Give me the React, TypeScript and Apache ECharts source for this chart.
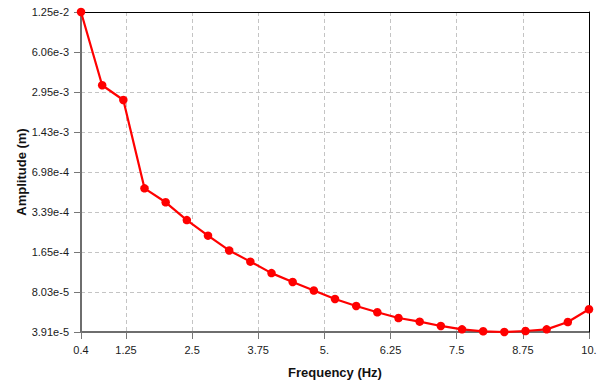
import React, { useEffect, useRef } from "react";
import * as echarts from "echarts";

const frequencies = [0.4, 0.8, 1.2, 1.6, 2.0, 2.4, 2.8, 3.2, 3.6, 4.0, 4.4, 4.8, 5.2, 5.6, 6.0, 6.4, 6.8, 7.2, 7.6, 8.0, 8.4, 8.8, 9.2, 9.6, 10.0];
const amplitudes = [
  1.25e-2, 3.34e-3, 2.56e-3, 5.21e-4, 4.05e-4, 2.94e-4, 2.22e-4, 1.70e-4, 1.39e-4, 1.13e-4,
  9.63e-5, 8.26e-5, 7.09e-5, 6.25e-5, 5.58e-5, 5.03e-5, 4.71e-5, 4.36e-5, 4.10e-5, 3.96e-5,
  3.91e-5, 3.98e-5, 4.10e-5, 4.68e-5, 5.89e-5,
];
const xTickValues = [0.4, 1.25, 2.5, 3.75, 5, 6.25, 7.5, 8.75, 10];
const xTickLabels = ["0.4", "1.25", "2.5", "3.75", "5.", "6.25", "7.5", "8.75", "10."];
const yTickValues = [3.91e-5, 8.03e-5, 1.65e-4, 3.39e-4, 6.98e-4, 1.43e-3, 2.95e-3, 6.06e-3, 1.25e-2];
const yTickLabels = ["3.91e-5", "8.03e-5", "1.65e-4", "3.39e-4", "6.98e-4", "1.43e-3", "2.95e-3", "6.06e-3", "1.25e-2"];

function nearestLabel(v: number, values: number[], labels: string[], log: boolean) {
  let best = 0;
  let bestD = Infinity;
  values.forEach((t, i) => {
    const d = log ? Math.abs(Math.log(t) - Math.log(v)) : Math.abs(t - v);
    if (d < bestD) { bestD = d; best = i; }
  });
  return labels[best];
}

export default function App() {
  const ref = useRef<HTMLDivElement>(null);
  useEffect(() => {
    document.body.style.margin = "0";
    const chart = echarts.init(ref.current!, null, { renderer: "svg" });
    const font = "'Liberation Sans', Arial, sans-serif";
    const gridLine = { show: true, lineStyle: { color: "#c4c4c4", type: [4, 3] as any, width: 1 } };
    const xMin = frequencies[0];
    const xMax = frequencies[frequencies.length - 1];
    const yMin = yTickValues[0];
    const yMax = yTickValues[yTickValues.length - 1];
    chart.setOption({
      animation: false,
      backgroundColor: "#ffffff",
      grid: {
        left: 81, right: 14, top: 12, bottom: 50,
        show: false,
        containLabel: false,
        outerBoundsMode: "none",
      },
      xAxis: [
        {
          type: "value",
          min: xMin,
          max: xMax,
          name: "Frequency (Hz)",
          nameLocation: "middle",
          nameGap: 34,
          nameMoveOverlap: false,
          nameTextStyle: { fontFamily: font, fontSize: 13, fontWeight: "bold", color: "#111" },
          axisLine: { show: true, lineStyle: { color: "#6e6e6e", width: 2 } },
          axisTick: { show: true, length: 7, customValues: xTickValues, lineStyle: { color: "#777", width: 1 } },
          axisLabel: {
            customValues: xTickValues,
            margin: 12,
            fontFamily: font,
            fontSize: 11,
            color: "#1a1a1a",
            showMinLabel: true,
            showMaxLabel: true,
            formatter: (v: number) => nearestLabel(v, xTickValues, xTickLabels, false),
          },
          splitLine: gridLine,
          z: 0,
        },
        {
          type: "value",
          position: "top",
          min: xMin,
          max: xMax,
          axisLine: { show: true, lineStyle: { color: "#000000", width: 1 } },
          axisTick: { show: false },
          axisLabel: { show: false },
          splitLine: { show: false },
          z: 3,
        },
      ],
      yAxis: [
        {
          type: "log",
          logBase: 10,
          min: yMin,
          max: yMax,
          name: "Amplitude (m)",
          nameLocation: "middle",
          nameGap: 53,
          nameMoveOverlap: false,
          nameTextStyle: { fontFamily: font, fontSize: 13, fontWeight: "bold", color: "#111" },
          axisLine: { show: true, lineStyle: { color: "#6e6e6e", width: 2 } },
          axisTick: { show: true, length: 7, customValues: yTickValues, lineStyle: { color: "#777", width: 1 } },
          axisLabel: {
            customValues: yTickValues,
            margin: 12,
            fontFamily: font,
            fontSize: 11,
            color: "#1a1a1a",
            showMinLabel: true,
            showMaxLabel: true,
            formatter: (v: number) => nearestLabel(v, yTickValues, yTickLabels, true),
          },
          splitLine: gridLine,
          z: 0,
        },
        {
          type: "log",
          logBase: 10,
          position: "right",
          min: yMin,
          max: yMax,
          axisLine: { show: true, lineStyle: { color: "#000000", width: 1 } },
          axisTick: { show: false },
          axisLabel: { show: false },
          splitLine: { show: false },
          z: 3,
        },
      ],
      series: [
        {
          type: "line",
          xAxisIndex: 0,
          yAxisIndex: 0,
          data: frequencies.map((f, i) => [f, amplitudes[i]]),
          symbol: "circle",
          symbolSize: 8.5,
          showSymbol: true,
          lineStyle: { color: "#ff0000", width: 2.2 },
          itemStyle: { color: "#ff0000" },
          z: 5,
        },
      ],
    });
    return () => chart.dispose();
  }, []);
  return <div ref={ref} style={{ width: 603, height: 382 }} />;
}
